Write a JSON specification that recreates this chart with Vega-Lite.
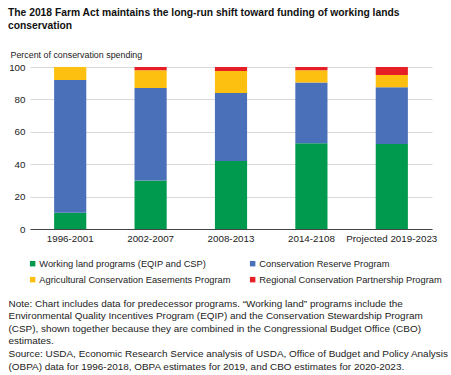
{
  "$schema": "https://vega.github.io/schema/vega-lite/v6.json",
  "width": 402,
  "height": 162,
  "autosize": {"type": "none"},
  "padding": {"left": 30, "top": 67, "right": 19, "bottom": 146},
  "background": "white",
  "config": {
    "font": "Liberation Sans",
    "view": {"stroke": null}
  },
  "title": {
    "text": ["The 2018 Farm Act maintains the long-run shift toward funding of working lands", "conservation"],
    "anchor": "start",
    "frame": "group",
    "dx": -22,
    "offset": 19,
    "fontSize": 10.3,
    "fontWeight": "bold",
    "font": "Liberation Sans",
    "lineHeight": 13,
    "color": "#111"
  },
  "data": {
    "values": [
      {"period": "1996-2001", "program": "Working land programs (EQIP and CSP)", "k": 1, "pct": 10},
      {"period": "1996-2001", "program": "Conservation Reserve Program", "k": 2, "pct": 82},
      {"period": "1996-2001", "program": "Agricultural Conservation Easements Program", "k": 3, "pct": 8},
      {"period": "1996-2001", "program": "Regional Conservation Partnership Program", "k": 4, "pct": 0},
      {"period": "2002-2007", "program": "Working land programs (EQIP and CSP)", "k": 1, "pct": 30},
      {"period": "2002-2007", "program": "Conservation Reserve Program", "k": 2, "pct": 57},
      {"period": "2002-2007", "program": "Agricultural Conservation Easements Program", "k": 3, "pct": 11},
      {"period": "2002-2007", "program": "Regional Conservation Partnership Program", "k": 4, "pct": 2},
      {"period": "2008-2013", "program": "Working land programs (EQIP and CSP)", "k": 1, "pct": 42},
      {"period": "2008-2013", "program": "Conservation Reserve Program", "k": 2, "pct": 42},
      {"period": "2008-2013", "program": "Agricultural Conservation Easements Program", "k": 3, "pct": 13.5},
      {"period": "2008-2013", "program": "Regional Conservation Partnership Program", "k": 4, "pct": 2.5},
      {"period": "2014-2108", "program": "Working land programs (EQIP and CSP)", "k": 1, "pct": 53},
      {"period": "2014-2108", "program": "Conservation Reserve Program", "k": 2, "pct": 37.5},
      {"period": "2014-2108", "program": "Agricultural Conservation Easements Program", "k": 3, "pct": 7.5},
      {"period": "2014-2108", "program": "Regional Conservation Partnership Program", "k": 4, "pct": 2},
      {"period": "Projected 2019-2023", "program": "Working land programs (EQIP and CSP)", "k": 1, "pct": 52.5},
      {"period": "Projected 2019-2023", "program": "Conservation Reserve Program", "k": 2, "pct": 35},
      {"period": "Projected 2019-2023", "program": "Agricultural Conservation Easements Program", "k": 3, "pct": 7.5},
      {"period": "Projected 2019-2023", "program": "Regional Conservation Partnership Program", "k": 4, "pct": 5}
    ]
  },
  "mark": {"type": "bar"},
  "encoding": {
    "x": {
      "field": "period",
      "type": "nominal",
      "sort": null,
      "scale": {"paddingInner": 0.6, "paddingOuter": 0.3},
      "axis": {
        "labelAngle": 0,
        "labelFontSize": 9.8,
        "labelColor": "#222",
        "labelPadding": 4,
        "ticks": false,
        "domainColor": "#444",
        "domainWidth": 1,
        "title": [
          "Note: Chart includes data for predecessor programs. \u201cWorking land\u201d programs include the",
          "Environmental Quality Incentives Program (EQIP) and the Conservation Stewardship Program",
          "(CSP), shown together because they are combined in the Congressional Budget Office (CBO)",
          "estimates.",
          "Source: USDA, Economic Research Service analysis of USDA, Office of Budget and Policy Analysis",
          "(OBPA) data for 1996-2018, OBPA estimates for 2019, and CBO estimates for 2020-2023."
        ],
        "titleX": -22,
        "titleY": 77,
        "titleAlign": "left",
        "titleBaseline": "alphabetic",
        "titleFontSize": 9.95,
        "titleFontWeight": "normal",
        "titleLineHeight": 12.6,
        "titleColor": "#222"
      }
    },
    "y": {
      "field": "pct",
      "type": "quantitative",
      "stack": "zero",
      "scale": {"domain": [0, 100]},
      "axis": {
        "values": [0, 20, 40, 60, 80, 100],
        "title": "Percent of conservation spending",
        "titleAngle": 0,
        "titleX": -20,
        "titleY": -10,
        "titleAlign": "left",
        "titleBaseline": "alphabetic",
        "titleFontSize": 8.9,
        "titleFontWeight": "normal",
        "titleColor": "#222",
        "labelFontSize": 9.8,
        "labelColor": "#222",
        "labelPadding": 5,
        "ticks": false,
        "domain": false,
        "gridColor": "#d9d9d9"
      }
    },
    "color": {
      "field": "program",
      "type": "nominal",
      "sort": ["Working land programs (EQIP and CSP)", "Conservation Reserve Program", "Agricultural Conservation Easements Program", "Regional Conservation Partnership Program"],
      "scale": {
        "domain": ["Working land programs (EQIP and CSP)", "Conservation Reserve Program", "Agricultural Conservation Easements Program", "Regional Conservation Partnership Program"],
        "range": ["#009A4E", "#4A70BA", "#FDC010", "#E61E26"]
      },
      "legend": {
        "orient": "none",
        "legendX": -2,
        "legendY": 192,
        "direction": "horizontal",
        "columns": 2,
        "title": null,
        "symbolType": "square",
        "symbolSize": 30,
        "symbolStrokeWidth": 0,
        "labelFontSize": 9.3,
        "labelColor": "#222",
        "labelOffset": 2,
        "labelLimit": 300,
        "rowPadding": 6,
        "columnPadding": 17
      }
    },
    "order": {"field": "k", "type": "quantitative", "sort": "ascending"}
  }
}
